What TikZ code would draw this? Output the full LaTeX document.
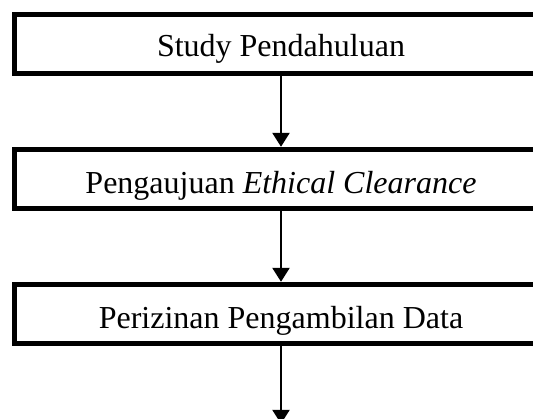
\documentclass[tikz,border=0pt]{standalone}
\usepackage{fontspec}
\setmainfont{Liberation Serif}
\usetikzlibrary{positioning,arrows.meta}
\tikzset{%
  stagebox/.style = {shape=rectangle, draw, line width=5pt,%
                     minimum width=533pt, minimum height=59pt,%
                     inner sep=0pt, align=center,%
                     text height=29pt, text depth=0pt,%
                     font=\fontsize{32}{38}\selectfont},%
  flow/.style     = {line width=2.5pt,%
                     -{Triangle[width=17pt,length=14pt]}}%
}
\begin{document}
\begin{tikzpicture}[node distance=71pt]%
	\useasboundingbox (0,0) rectangle (533pt,-419pt);
	\node (study) at (281pt,-43.8pt) [stagebox,text height=26pt] {Study Pendahuluan};%
	\node (ethic) [stagebox,below=of study] {Pengaujuan \textit{Ethical Clearance}};%
	\node (izin) [stagebox,below=of ethic] {Perizinan Pengambilan Data};%
	\coordinate [below=78pt of izin] (next);%
	\draw [flow] (study) -- (ethic);
	\draw [flow] (ethic) -- (izin);
	\draw [flow] (izin) -- (next);
\end{tikzpicture}
\end{document}
